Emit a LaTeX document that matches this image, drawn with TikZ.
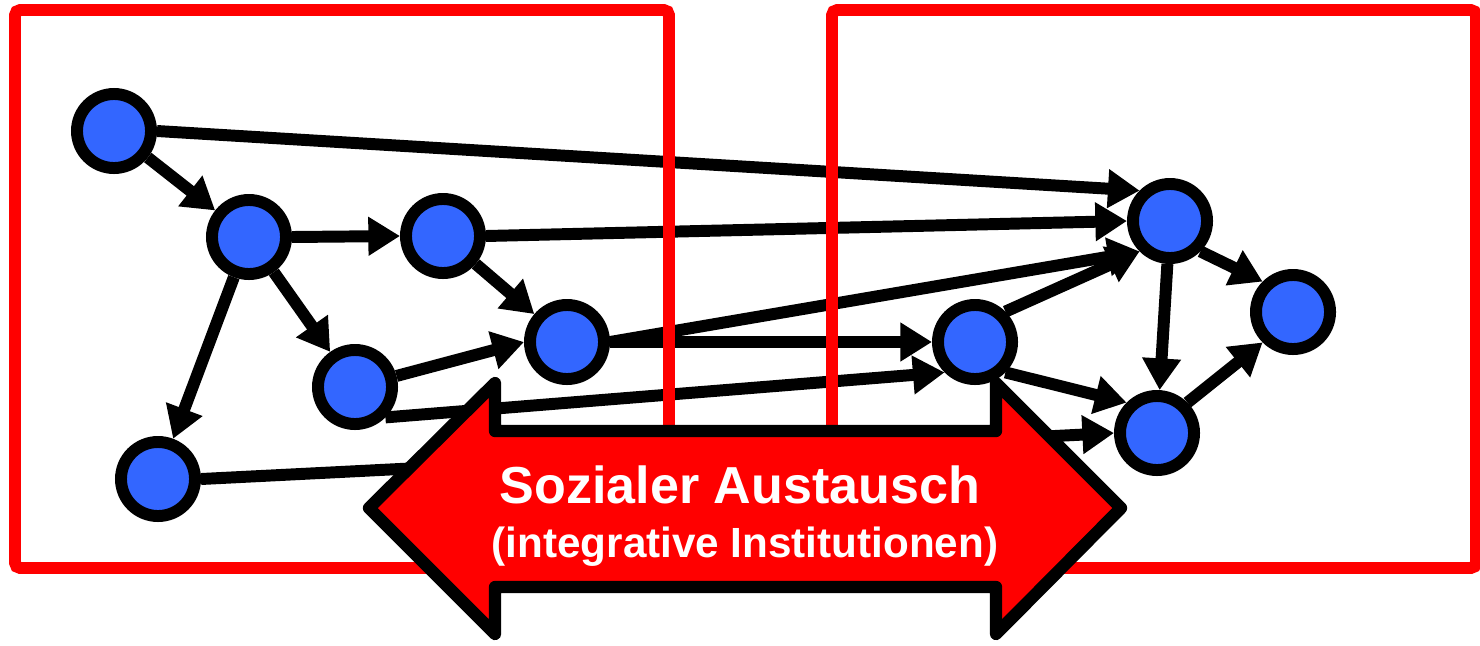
\documentclass[tikz,border=0pt]{standalone}
\usepackage{fontspec}
\setmainfont{Liberation Sans}
\usetikzlibrary{arrows.meta}

\definecolor{knotenblau}{RGB}{51,102,255}

\tikzset{
	knoten/.style={circle, draw, line width=3.4pt, fill=knotenblau, inner sep=0pt, minimum size=0.74cm},
	kante/.style={line width=3.4pt, -{Triangle[length=9pt,width=10.5pt]}},
	rahmen/.style={draw=red, line width=3.4pt, rounded corners=1.5pt},
	pfeil/.style={draw=black, fill=red, line width=3.5pt, line join=round},
	schrift/.style={text=white, inner sep=0pt, anchor=base}
}

\begin{document}
\begin{tikzpicture}[x=0.01cm, y=-0.01cm]
		\useasboundingbox (0,0) rectangle (1480,645);
		\node[knoten] (A) at (114,131) {};
		\node[knoten] (B) at (249,237) {};
		\node[knoten] (C) at (443,236) {};
		\node[knoten] (D) at (567,342) {};
		\node[knoten] (E) at (355,387) {};
		\node[knoten] (F) at (158,479) {};
		\node[knoten] (G) at (975,342) {};
		\node[knoten] (H) at (1170,221) {};
		\node[knoten] (I) at (1293,312) {};
		\node[knoten] (J) at (1157,433) {};
		\draw[kante] (A) -- (B);
		\draw[kante] (A.east) -- (H.north west);
		\draw[kante] (B.east) -- (C.west);
		\draw[kante] (B) -- (E);
		\draw[kante] (B) -- (F);
		\draw[kante] (C) -- (D);
		\draw[kante] (C.east) -- (H.west);
		\draw[kante] (D.east) -- (H.south west);
		\draw[kante] (D.east) -- (G.west);
		\draw[kante] (E) -- (D.west);
		\draw[kante] (E.south east) -- (G.south west);
		\draw[kante] (F.east) -- (J.west);
		\draw[kante] (G.north east) -- (H.south west);
		\draw[kante] (G.south east) -- (J.north west);
		\draw[kante] (H) -- (J);
		\draw[kante] (H.south east) -- (I.north west);
		\draw[kante] (J.north east) -- (I.south west);
		\draw[rahmen] (15,10) rectangle (669,568);
		\draw[rahmen] (832,10) rectangle (1476,568);
		\draw[pfeil] (369,508) -- (495,383) -- (495,431) -- (996,431) -- (996,383) -- (1121,508)
			-- (996,634) -- (996,587) -- (495,587) -- (495,634) -- cycle;
		\node[schrift, font=\bfseries\fontsize{14.8}{17}\selectfont] (austausch) at (740,503) {Sozialer Austausch};
		\node[schrift, font=\bfseries\fontsize{12}{14}\selectfont] (institutionen) at (745,557) {(integrative Institutionen)};
	\end{tikzpicture}
\end{document}
